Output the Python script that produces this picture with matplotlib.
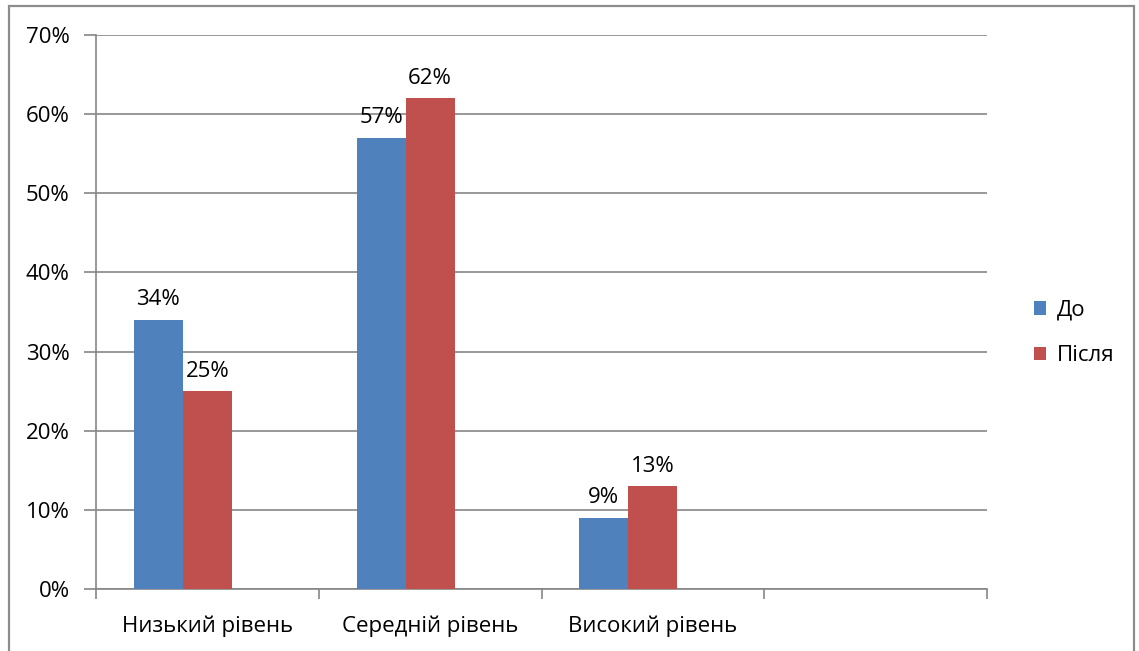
import matplotlib.pyplot as plt
from matplotlib.patches import Rectangle
from matplotlib.ticker import FuncFormatter

categories = ['Низький рівень', 'Середній рівень', 'Високий рівень', '']
before = [34, 57, 9]
after = [25, 62, 13]
series_names = ['До', 'Після']
colors = ['#4F81BD', '#C0504D']

plt.rcParams['font.family'] = ['Open Sans', 'DejaVu Sans']
grey = '#868686'
fs = 16

fig = plt.figure(figsize=(11.39, 6.51), dpi=100)
ax = fig.add_axes([96 / 1139, 1 - 589 / 651, (987 - 96) / 1139, (589 - 35) / 651])

w = 0.22
xs = list(range(len(before)))
for vals, off, col, name in [(before, -w, colors[0], series_names[0]),
                             (after, 0.0, colors[1], series_names[1])]:
    pos = [x + off for x in xs]
    bars = ax.bar(pos, vals, width=w, color=col, label=name, zorder=3)
    for b, v in zip(bars, vals):
        ax.text(b.get_x() + b.get_width() / 2, v + 1.2, f'{v}%',
                ha='center', va='bottom', fontsize=fs, zorder=4)

ax.set_xlim(-0.5, len(categories) - 0.5)
ax.set_ylim(0, 70)
ax.set_yticks(range(0, 71, 10))
ax.yaxis.set_major_formatter(FuncFormatter(lambda v, p: f'{int(v)}%'))
ax.grid(axis='y', color=grey, lw=1.2, zorder=0)

ax.set_xticks(range(len(categories)))
ax.set_xticklabels(categories)
ax.set_xticks([i - 0.5 for i in range(len(categories) + 1)], minor=True)
ax.tick_params(axis='x', which='major', length=0, pad=19, labelsize=fs)
ax.tick_params(axis='x', which='minor', length=7, color=grey, width=1.2)
ax.tick_params(axis='y', length=9, color=grey, width=1.2, pad=10, labelsize=fs)

for s in ['top', 'right']:
    ax.spines[s].set_visible(False)
for s in ['left', 'bottom']:
    ax.spines[s].set_color(grey)
    ax.spines[s].set_linewidth(1.2)

ax.legend(loc='center left', bbox_to_anchor=(1.03, 0.462), frameon=False,
          fontsize=fs, handlelength=0.55, handleheight=0.55, labelspacing=1.1,
          handletextpad=0.5)

fig.add_artist(Rectangle((9 / 1139, -0.05), (1134 - 9) / 1139, 1.05 - 6 / 651,
                         transform=fig.transFigure, fill=False,
                         edgecolor='#8c8c8c', lw=1.6))

fig.savefig('out.png', dpi=100)
